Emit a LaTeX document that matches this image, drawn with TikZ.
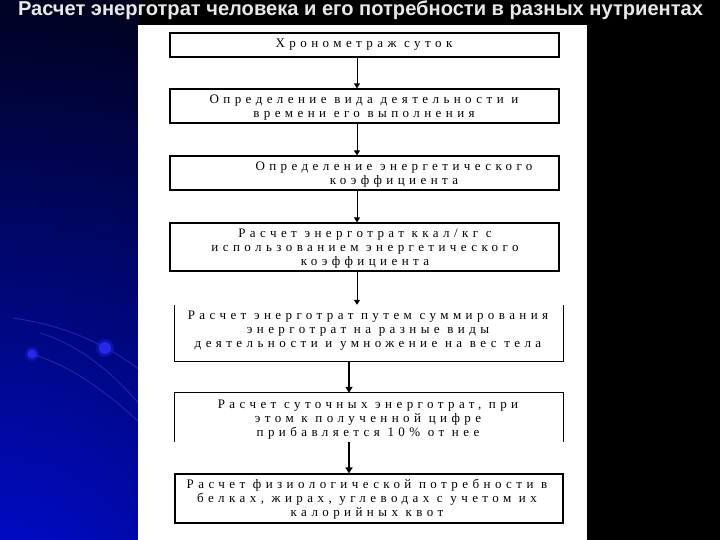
\documentclass[tikz,border=0pt]{standalone}
\usepackage{fontspec}
\setmainfont{Liberation Serif}
\newfontfamily\titlefont{Liberation Sans}
\newfontfamily\boxfont[LetterSpace=34]{Liberation Serif}
\usetikzlibrary{arrows.meta}
\definecolor{deepblue}{RGB}{0,12,215}
\definecolor{arcblue}{RGB}{35,35,165}
\definecolor{dotblue}{RGB}{40,40,235}
\definecolor{titlegray}{RGB}{232,232,232}
\tikzset{
  boxline/.style={draw=black, line width=1.2pt},
  flowbox/.style={boxline, minimum width=389pt, inner sep=0pt},
  openbox/.style={draw=none, minimum width=388pt, inner sep=0pt},
  boxtext/.style={font=\boxfont\fontsize{13}{14}\selectfont, align=center, text=black, inner sep=0pt},
  thinarrow/.style={line width=1pt, -{Triangle[length=5pt,width=6pt]}},
  thickarrow/.style={line width=2pt, -{Triangle[length=6pt,width=7pt]}}
}
\begin{document}
\begin{tikzpicture}[x=1pt,y=-1pt]
\useasboundingbox (0,0) rectangle (720,540);
\fill[black] (0,0) rectangle (720,540);
% blue glow at lower left
\begin{scope}
  \clip (0,0) rectangle (140,540);
  \shade[inner color=deepblue, outer color=black] (0,610) circle (720pt);
  \draw[arcblue, line width=1pt] (13,318) .. controls (60,325) and (100,340) .. (140,370);
  \draw[arcblue, line width=1pt] (40,333) .. controls (80,345) and (115,375) .. (140,405);
  \draw[arcblue, line width=1pt] (35,355) .. controls (75,368) and (110,395) .. (140,423);
  \fill[dotblue, opacity=0.35] (32,354) circle (7pt);
  \fill[dotblue] (32,354) circle (4.5pt);
  \fill[dotblue, opacity=0.35] (105,348) circle (9pt);
  \fill[dotblue] (105,348) circle (6pt);
\end{scope}
% title
\node[text=titlegray, inner sep=0pt] (title) at (360.5,10.5)
  {\resizebox{685pt}{!}{\titlefont\fontsize{19}{19}\selectfont\bfseries Расчет энерготрат человека и его потребности в разных нутриентах}};
% page
\fill[white] (138,25) rectangle (587,540);
% boxes
\node[flowbox, minimum height=24pt] (box1) at (364.5,45) {};
\node[flowbox, minimum height=34pt] (box2) at (364.5,106) {};
\node[flowbox, minimum height=34pt] (box3) at (364.5,173) {};
\node[flowbox, minimum height=48pt] (box4) at (364.5,247) {};
\node[openbox, minimum height=56pt] (box5) at (369,333) {};
\node[openbox, minimum height=49pt] (box6) at (369,417.5) {};
\node[flowbox, minimum width=388pt, minimum height=49pt] (box7) at (369,498.5) {};
\draw[boxline] (box5.north west) -- (box5.south west) -- (box5.south east) -- (box5.north east);
\draw[boxline] (box6.south west) -- (box6.north west) -- (box6.north east) -- (box6.south east);
% texts
\node[boxtext] (t1) at (364,45) {Хронометраж суток};
\node[boxtext] (t2) at (364,107.5) {Определение вида деятельности и\\времени его выполнения};
\node[boxtext] (t3) at (394,175) {Определение энергетического\\коэффициента};
\node[boxtext] (t4) at (365,248.5) {Расчет энерготрат ккал/кг с\\использованием энергетического\\коэффициента};
\node[boxtext] (t5) at (368,331) {Расчет энерготрат путем суммирования\\энерготрат на разные виды\\деятельности и умножение на вес тела};
\node[boxtext] (t6) at (368,419.5) {Расчет суточных энерготрат, при\\этом к полученной цифре\\прибавляется 10\% от нее};
\node[boxtext] (t7) at (367,499) {Расчет физиологической потребности в\\белках, жирах, углеводах с учетом их\\калорийных квот};
% arrows
\coordinate (ax) at (357,0);
\coordinate (bx) at (349,0);
\draw[thinarrow] (box1.south -| ax) -- (box2.north -| ax);
\draw[thinarrow] (box2.south -| ax) -- (box3.north -| ax);
\draw[thinarrow] (box3.south -| ax) -- (box4.north -| ax);
\draw[thinarrow] (box4.south -| ax) -- (box5.north -| ax);
\draw[thickarrow] (box5.south -| bx) -- (box6.north -| bx);
\draw[thickarrow] (box6.south -| bx) -- (box7.north -| bx);
\end{tikzpicture}
\end{document}
